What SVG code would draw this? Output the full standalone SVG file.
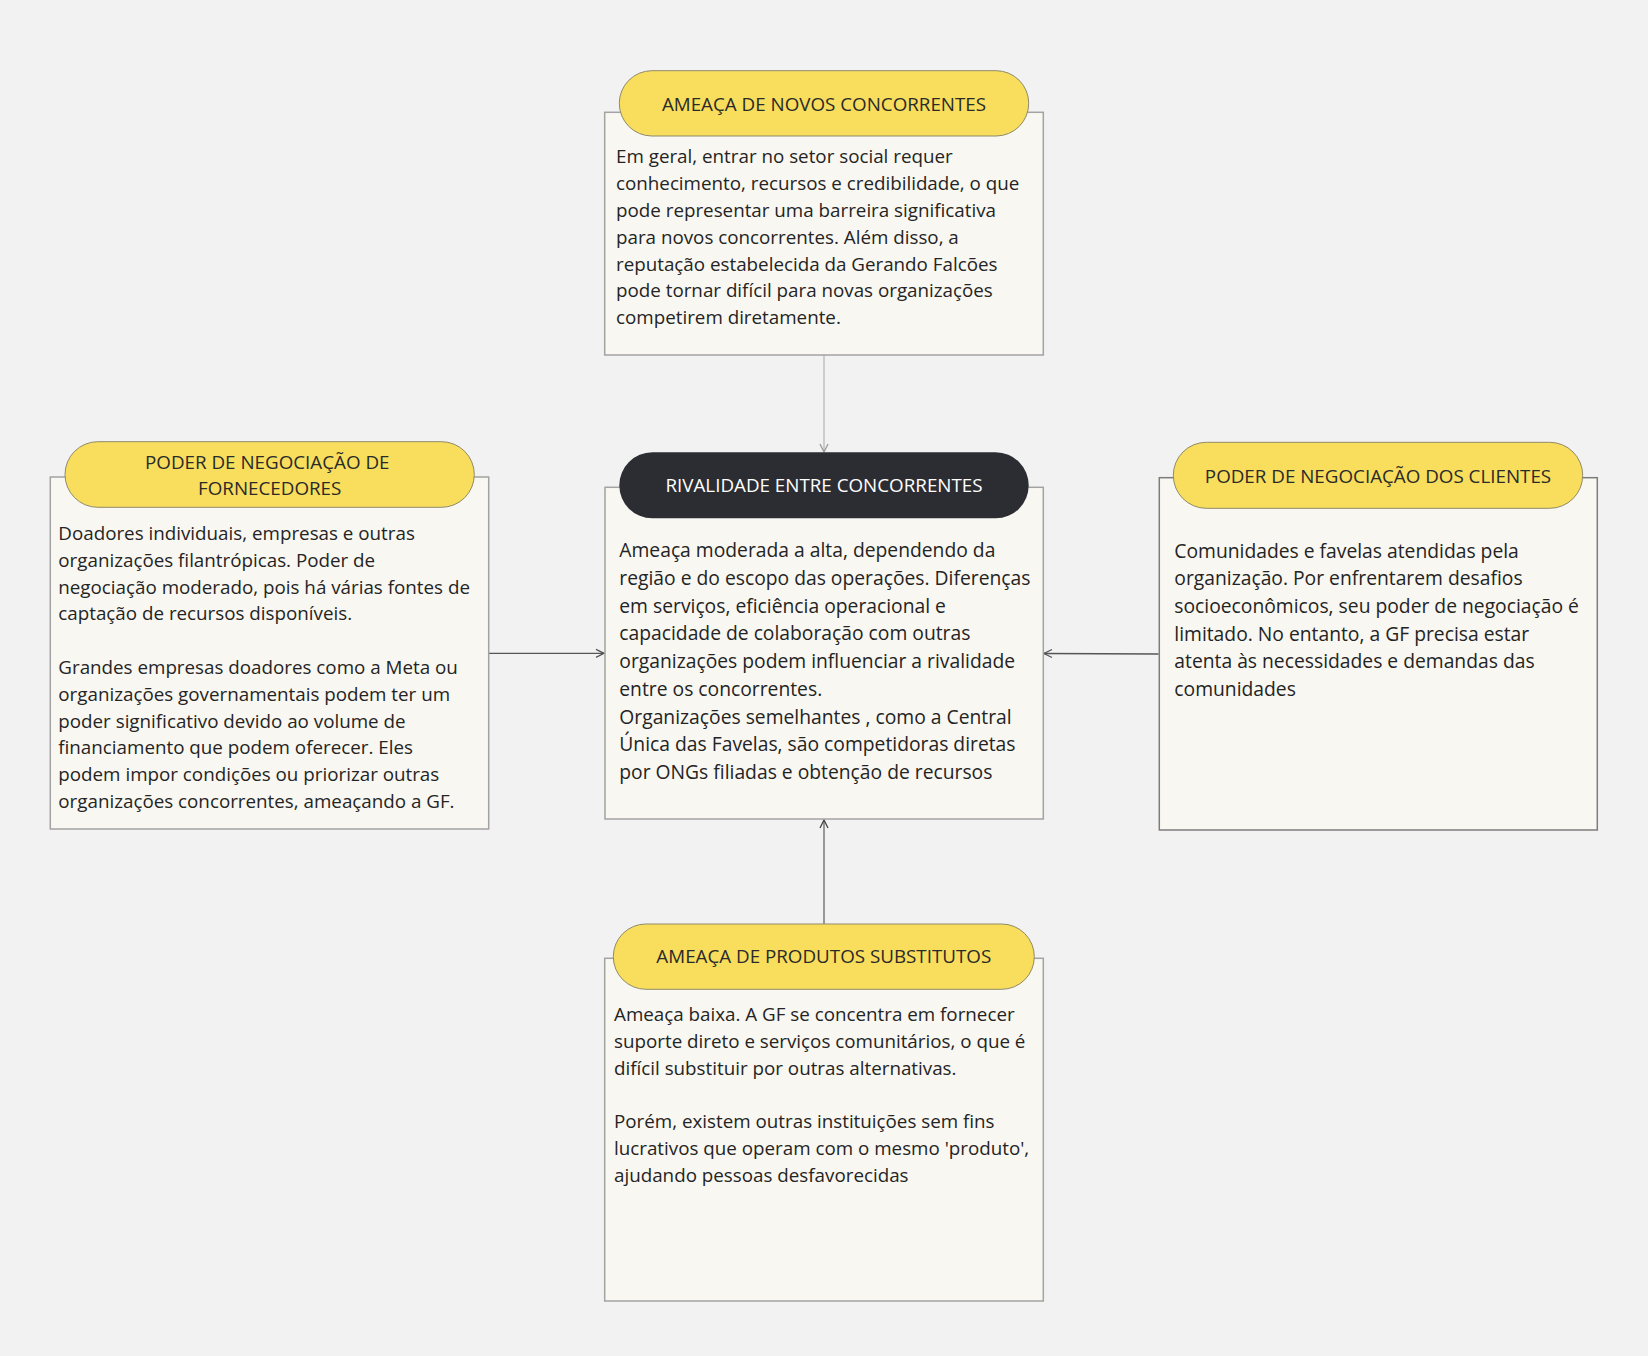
<svg xmlns="http://www.w3.org/2000/svg" width="1648" height="1356" viewBox="0 0 1648 1356">
<defs>
<style>
.box{fill:#f9f7f1;stroke:#a3a3a3;stroke-width:1.5}
.pill{fill:#f8de5c;stroke:#8f8a6a;stroke-width:1}
.dark{fill:#2c2d32}
.title{font-family:"Open Sans","Noto Sans",sans-serif;font-size:18.8px;fill:#2a2a2a;text-anchor:middle}
.titlew{font-family:"Open Sans","Noto Sans",sans-serif;font-size:18.8px;fill:#ffffff;text-anchor:middle}
.body{font-family:"Open Sans","Noto Sans",sans-serif;font-size:18.8px;fill:#242424}
.body2{font-family:"Open Sans","Noto Sans",sans-serif;font-size:19.3px;fill:#242424}
.conn{fill:none;stroke-width:1.3}
</style>
<marker id="arrL" viewBox="0 0 10 10" refX="9" refY="5" markerWidth="10" markerHeight="10" markerUnits="userSpaceOnUse" orient="auto">
<path d="M1,1 L9,5 L1,9" fill="none" stroke="#555" stroke-width="1.3"/>
</marker>
<marker id="arrT" viewBox="0 0 10 10" refX="9" refY="5" markerWidth="10" markerHeight="10" markerUnits="userSpaceOnUse" orient="auto">
<path d="M1,1 L9,5 L1,9" fill="none" stroke="#999" stroke-width="1.3"/>
</marker>
<marker id="arrB" viewBox="0 0 10 10" refX="9" refY="5" markerWidth="10" markerHeight="10" markerUnits="userSpaceOnUse" orient="auto">
<path d="M1,1 L9,5 L1,9" fill="none" stroke="#444" stroke-width="1.3"/>
</marker>
</defs>
<rect x="0" y="0" width="1648" height="1356" fill="#f2f2f2"/>

<g id="connectors">
<line class="conn" x1="824" y1="355" x2="824" y2="452" stroke="#b8b8b8" marker-end="url(#arrT)"/>
<line class="conn" x1="489" y1="653.3" x2="604" y2="653.3" stroke="#555" marker-end="url(#arrL)"/>
<line class="conn" x1="1158.5" y1="654" x2="1044" y2="653.5" stroke="#555" marker-end="url(#arrL)"/>
<line class="conn" x1="824" y1="924" x2="824" y2="820" stroke="#666" marker-end="url(#arrB)"/>
</g>

<g id="node-novos">
<rect class="box" x="604.7" y="112.3" width="438.6" height="242.7"/>
<rect class="pill" x="619.3" y="70.7" width="409.4" height="65.3" rx="32.6" ry="32.6"/>
<text class="title" x="824" y="110.5">AMEAÇA DE NOVOS CONCORRENTES</text>
<text class="body" x="616" y="163.3">
<tspan x="616" dy="0">Em geral, entrar no setor social requer</tspan>
<tspan x="616" dy="26.8">conhecimento, recursos e credibilidade, o que</tspan>
<tspan x="616" dy="26.8">pode representar uma barreira significativa</tspan>
<tspan x="616" dy="26.8">para novos concorrentes. Além disso, a</tspan>
<tspan x="616" dy="26.8">reputação estabelecida da Gerando Falcões</tspan>
<tspan x="616" dy="26.8">pode tornar difícil para novas organizações</tspan>
<tspan x="616" dy="26.8">competirem diretamente.</tspan>
</text>
</g>

<g id="node-rivalidade">
<rect class="box" x="605" y="487.3" width="438.3" height="331.7"/>
<rect class="dark" x="619.3" y="452.3" width="409.4" height="66" rx="33" ry="33"/>
<text class="titlew" x="824" y="491.5">RIVALIDADE ENTRE CONCORRENTES</text>
<text class="body2" x="619.3" y="557.3">
<tspan x="619.3" dy="0">Ameaça moderada a alta, dependendo da</tspan>
<tspan x="619.3" dy="27.7">região e do escopo das operações. Diferenças</tspan>
<tspan x="619.3" dy="27.7">em serviços, eficiência operacional e</tspan>
<tspan x="619.3" dy="27.7">capacidade de colaboração com outras</tspan>
<tspan x="619.3" dy="27.7">organizações podem influenciar a rivalidade</tspan>
<tspan x="619.3" dy="27.7">entre os concorrentes.</tspan>
<tspan x="619.3" dy="27.7">Organizações semelhantes , como a Central</tspan>
<tspan x="619.3" dy="27.7">Única das Favelas, são competidoras diretas</tspan>
<tspan x="619.3" dy="27.7">por ONGs filiadas e obtenção de recursos</tspan>
</text>
</g>

<g id="node-fornecedores">
<rect class="box" x="50.3" y="477" width="438.4" height="352"/>
<rect class="pill" x="65" y="441.7" width="409.3" height="65.6" rx="32.8" ry="32.8"/>
<text class="title" x="269.7" y="469.3">
<tspan x="269.7" dy="0">PODER DE NEGOCIAÇÃO DE</tspan>
<tspan x="269.7" dy="25.7">FORNECEDORES</tspan>
</text>
<text class="body" x="58.3" y="540">
<tspan x="58.3" dy="0">Doadores individuais, empresas e outras</tspan>
<tspan x="58.3" dy="26.8">organizações filantrópicas. Poder de</tspan>
<tspan x="58.3" dy="26.8">negociação moderado, pois há várias fontes de</tspan>
<tspan x="58.3" dy="26.8">captação de recursos disponíveis.</tspan>
<tspan x="58.3" dy="53.6">Grandes empresas doadores como a Meta ou</tspan>
<tspan x="58.3" dy="26.8">organizações governamentais podem ter um</tspan>
<tspan x="58.3" dy="26.8">poder significativo devido ao volume de</tspan>
<tspan x="58.3" dy="26.8">financiamento que podem oferecer. Eles</tspan>
<tspan x="58.3" dy="26.8">podem impor condições ou priorizar outras</tspan>
<tspan x="58.3" dy="26.8">organizações concorrentes, ameaçando a GF.</tspan>
</text>
</g>

<g id="node-clientes">
<rect class="box" x="1159.3" y="477.7" width="438" height="352.3" style="stroke:#7d7d7d"/>
<rect class="pill" x="1173.3" y="442.3" width="409.4" height="66" rx="33" ry="33"/>
<text class="title" x="1378" y="482.7">PODER DE NEGOCIAÇÃO DOS CLIENTES</text>
<text class="body2" x="1174.3" y="557.7">
<tspan x="1174.3" dy="0">Comunidades e favelas atendidas pela</tspan>
<tspan x="1174.3" dy="27.6">organização. Por enfrentarem desafios</tspan>
<tspan x="1174.3" dy="27.6">socioeconômicos, seu poder de negociação é</tspan>
<tspan x="1174.3" dy="27.6">limitado. No entanto, a GF precisa estar</tspan>
<tspan x="1174.3" dy="27.6">atenta às necessidades e demandas das</tspan>
<tspan x="1174.3" dy="27.6">comunidades</tspan>
</text>
</g>

<g id="node-substitutos">
<rect class="box" x="604.7" y="958.3" width="438.6" height="342.7"/>
<rect class="pill" x="613.3" y="924" width="421" height="65.3" rx="32.6" ry="32.6"/>
<text class="title" x="823.8" y="963.3">AMEAÇA DE PRODUTOS SUBSTITUTOS</text>
<text class="body" x="614" y="1021">
<tspan x="614" dy="0">Ameaça baixa. A GF se concentra em fornecer</tspan>
<tspan x="614" dy="26.8">suporte direto e serviços comunitários, o que é</tspan>
<tspan x="614" dy="26.8">difícil substituir por outras alternativas.</tspan>
<tspan x="614" dy="53.6">Porém, existem outras instituições sem fins</tspan>
<tspan x="614" dy="26.8">lucrativos que operam com o mesmo 'produto',</tspan>
<tspan x="614" dy="26.8">ajudando pessoas desfavorecidas</tspan>
</text>
</g>
</svg>
